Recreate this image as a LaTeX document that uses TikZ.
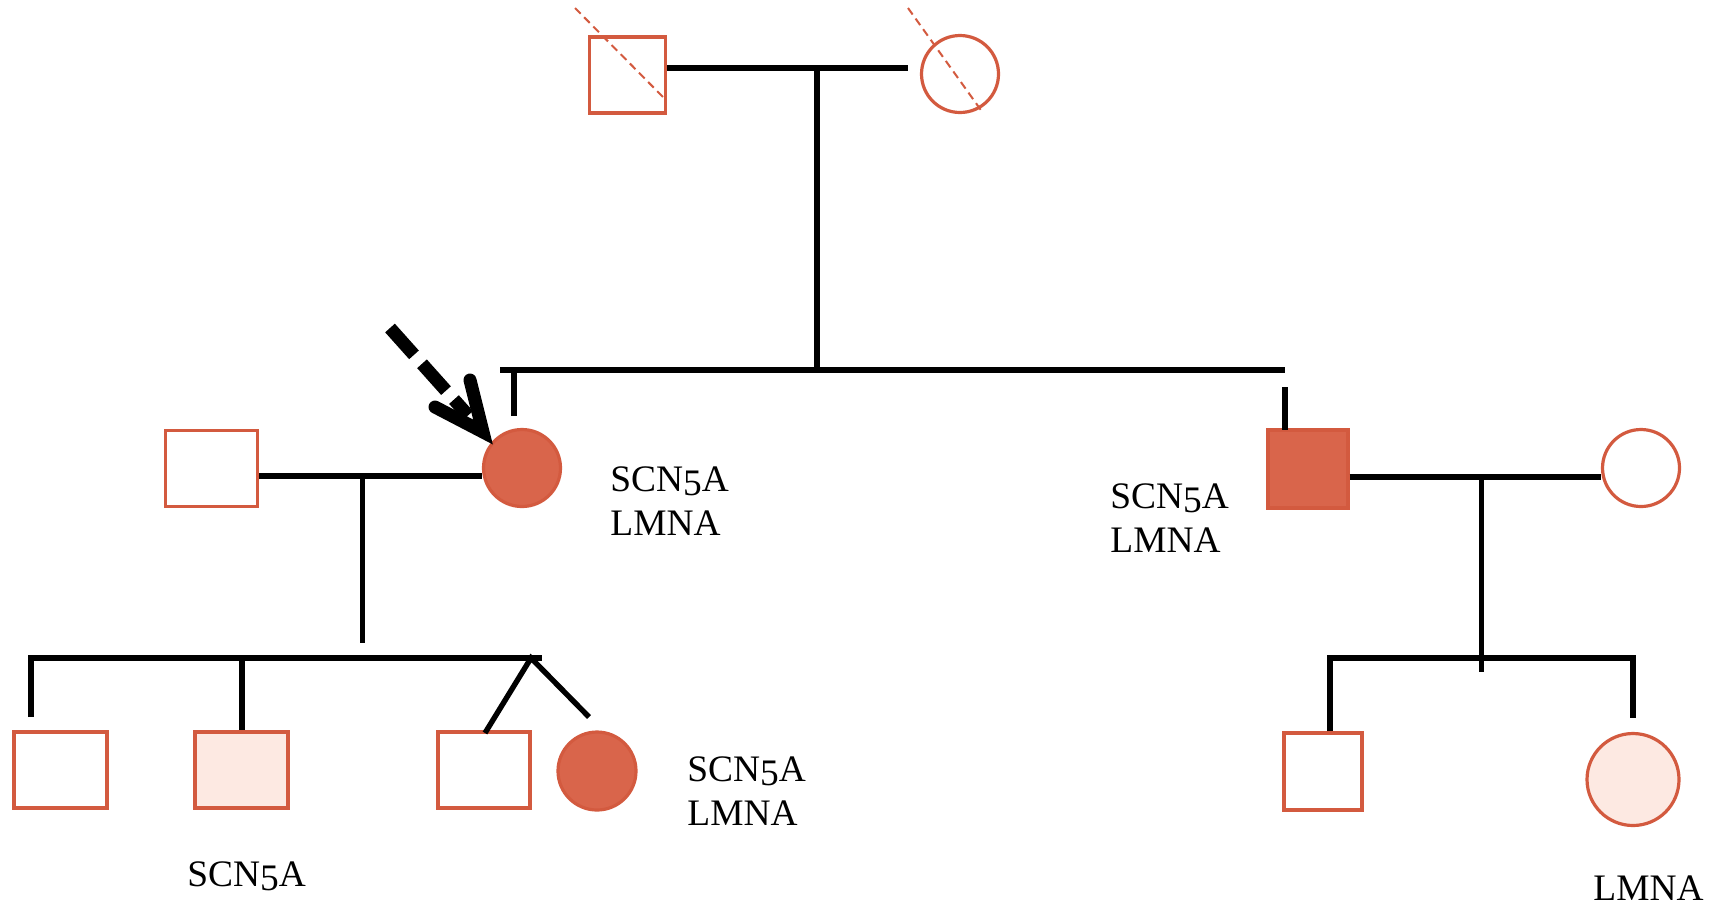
\documentclass[tikz,border=0pt]{standalone}
\usepackage{fontspec}
\usetikzlibrary{calc}
\newfontfamily\genefont{Liberation Serif}
% old-style five: a lining 5 dropped below the baseline
\newcommand{\osfive}{\raisebox{-2.3pt}{5}}
\definecolor{affc}{HTML}{D9654B}
\definecolor{carc}{HTML}{FDE9E2}
\definecolor{edgec}{HTML}{D35A3F}
\begin{document}
\begin{tikzpicture}[x=0.5pt,y=-0.5pt,
  person/.style={draw=edgec, line width=1.6pt, fill=white, inner sep=0pt},
  male/.style={person, rectangle},
  female/.style={person, circle},
  affected/.style={fill=affc},
  carrier/.style={fill=carc},
  rel/.style={line width=2.7pt, black},
  deceased/.style={draw=edgec, line width=1pt, dash pattern=on 4pt off 2.5pt},
  gene/.style={anchor=base west, align=left, inner sep=0pt,
    font=\genefont\fontsize{18.7}{22}\selectfont}]
\useasboundingbox (0,0) rectangle (1723,907);

% generation I
\node[male, minimum width=38pt, minimum height=38pt] (gf) at (627.5,75) {};
\node[female, minimum size=38.5pt] (gm) at (960,74) {};
\draw[deceased] (575,8) -- (663,97);
\draw[deceased] (908,8) -- (983,113);

% generation II
\node[male, minimum width=46pt, minimum height=38pt] (husb) at (211.5,468.5) {};
\node[female, affected, minimum size=38.5pt] (proband) at (522,468) {};
\node[male, affected, minimum width=40pt, minimum height=39pt] (bro) at (1308,469) {};
\node[female, minimum size=38.5pt] (bwife) at (1641,468) {};

% generation III
\node[male, minimum width=46.5pt, minimum height=38pt] (c1) at (60.5,770) {};
\node[male, carrier, minimum width=46.5pt, minimum height=38pt] (c2) at (241.5,770) {};
\node[male, minimum width=46pt, minimum height=38pt] (c3) at (484,770) {};
\node[female, affected, minimum size=39pt] (c4) at (597,771) {};
\node[male, minimum width=39pt, minimum height=38.5pt] (r1) at (1323,771.5) {};
\node[female, carrier, minimum size=46pt] (r2) at (1633,779.5) {};

% line junctions
\coordinate (m1) at (817,68);
\coordinate (m1end) at (908,68);
\coordinate (s1) at (817,370);
\coordinate (sL) at (500,370);
\coordinate (sR) at (1285,370);
\coordinate (pd) at (514,416);
\coordinate (bd1) at (1285,387);
\coordinate (bd2) at (1285,430);
\coordinate (m2) at (362.6,476);
\coordinate (d2) at (362.6,643);
\coordinate (k1) at (31,658);
\coordinate (k2) at (542,658);
\coordinate (k1b) at (31,717);
\coordinate (k2b) at (242,658);
\coordinate (tw) at (531,658);
\coordinate (tw3) at (485,733);
\coordinate (tw4) at (589,717);
\coordinate (m3) at (1481.5,477);
\coordinate (d3) at (1481.5,672);
\coordinate (r1t) at (1330,658);
\coordinate (r2t) at (1633,658);
\coordinate (r2b) at (1633,718);

% relationship lines
\draw[rel] (gf.east |- m1) -- (m1end);
\draw[rel] (m1) -- (s1);
\draw[rel] (sL) -- (sR);
\draw[rel] (pd |- sL) -- (pd);
\draw[rel] (bd1) -- (bd2);
\draw[rel] (husb.east |- m2) -- (proband.west |- m2);
\draw[rel] (m2) -- (d2);
\draw[rel] (k1b) -- (k1) -- (k2);
\draw[rel] (k2b) -- (k2b |- c2.north);
\draw[rel] (tw3) -- (tw) -- (tw4);
\draw[rel] (bro.east |- m3) -- (bwife.west |- m3);
\draw[rel] (m3) -- (d3);
\draw[rel] (r1t |- r1.north) -- (r1t) -- (r2t) -- (r2b);

% proband arrow
\coordinate (arrS) at (390,328);
\coordinate (tip) at (483,432);
\draw[line width=6.5pt, dash pattern=on 18pt off 6pt]
  (arrS) -- ($(arrS)!0.84!(tip)$);
\draw[line width=6.5pt, line cap=round, line join=miter]
  (470,380) -- (tip) -- (435,407);

% genotype labels (anchored at the last line's baseline)
\node[gene] (g1) at (610,535) {SCN\osfive A\\LMNA};
\node[gene] (g2) at (1110,552) {SCN\osfive A\\LMNA};
\node[gene] (g3) at (687,825) {SCN\osfive A\\LMNA};
\node[gene] (g4) at (187,886) {SCN\osfive A};
\node[gene] (g5) at (1593,900) {LMNA};
\end{tikzpicture}
\end{document}
